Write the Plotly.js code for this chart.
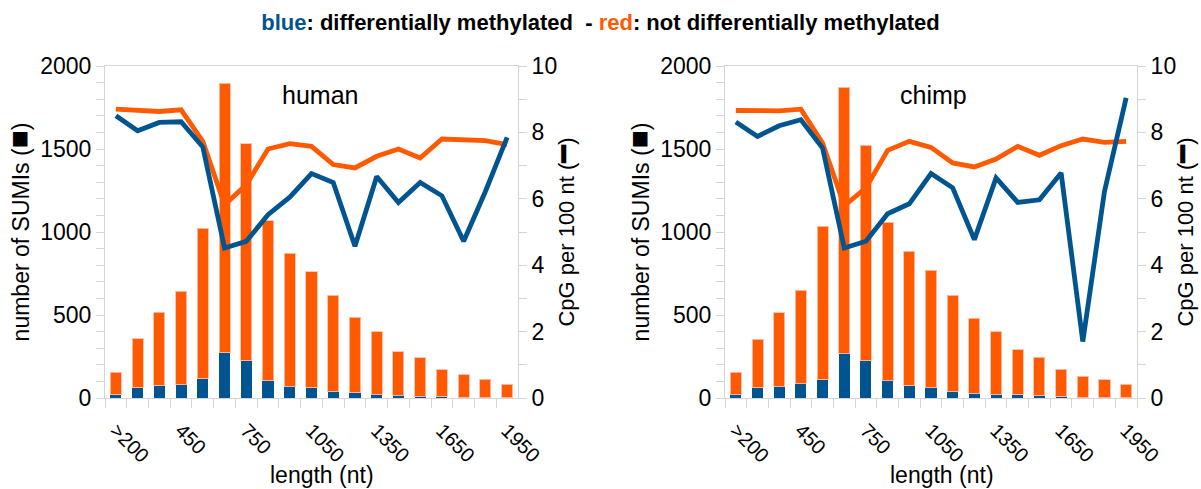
<!DOCTYPE html>
<html>
<head>
<meta charset="utf-8">
<script src="https://cdn.plot.ly/plotly-3.0.1.min.js"></script>
<style>html,body{margin:0;padding:0;background:#fff}#chart{width:1201px;height:489px}</style>
</head>
<body>
<div id="chart"></div>
<script>
// ---- data ----
const categories = ['>200','250','350','450','550','650','750','850','950','1050','1150','1250','1350','1450','1550','1650','1750','1850','1950'];
const shownTicks = ['>200','450','750','1050','1350','1650','1950'];

const humanDiffCount    = [20,62,74,84,116,274,224,104,70,62,40,32,24,16,10,8,2,4,1];
const humanNotDiffCount = [134,296,442,560,908,1623,1308,964,803,699,580,454,376,264,232,162,138,110,83];
const chimpDiffCount    = [24,62,72,90,110,270,224,108,74,62,42,30,24,20,14,8,1,4,1];
const chimpNotDiffCount = [130,292,442,558,924,1603,1300,952,809,709,578,450,374,272,232,164,131,106,83];

const humanDiffCpG    = [8.50,8.05,8.30,8.32,7.56,4.52,4.72,5.52,6.05,6.76,6.49,4.57,6.67,5.89,6.49,6.09,4.72,6.22,7.85];
const humanNotDiffCpG = [8.70,8.68,8.63,8.68,7.73,5.82,6.42,7.50,7.66,7.58,7.03,6.93,7.28,7.50,7.23,7.80,7.76,7.75,7.63];
const chimpDiffCpG    = [8.31,7.88,8.20,8.38,7.53,4.52,4.72,5.55,5.85,6.76,6.33,4.77,6.63,5.89,5.97,6.78,1.70,6.22,9.04];
const chimpNotDiffCpG = [8.66,8.66,8.65,8.70,7.68,5.79,6.33,7.46,7.73,7.55,7.08,6.96,7.20,7.58,7.31,7.60,7.80,7.70,7.73];

const xTitle = 'length (nt)';

// ---- style ----
const BLUE = '#005590';
const ORANGE = '#ff5a00';
const FONT = 'Liberation Sans, Arial, sans-serif';
const AXC = '#d4d4d4';
const W = 1201, H = 489;

function barTrace(y, color, xa, ya, name, outline) {
  return {type:'bar', x:categories, y:y, xaxis:xa, yaxis:ya, name:name,
    marker:{color:color, line:{color:outline, width:outline ? 1 : 0}}, hoverinfo:'skip', showlegend:false};
}
function lineTrace(y, color, xa, ya, name) {
  return {type:'scatter', mode:'lines', x:categories, y:y, xaxis:xa, yaxis:ya, name:name,
    line:{color:color, width:4.8}, hoverinfo:'skip', showlegend:false};
}

const data = [
  barTrace(humanDiffCount, BLUE, 'x', 'y', 'human diff', null),
  barTrace(humanNotDiffCount, ORANGE, 'x', 'y', 'human not diff', 'rgba(255,190,170,0.9)'),
  lineTrace(humanNotDiffCpG, ORANGE, 'x', 'y2', 'human CpG not diff'),
  lineTrace(humanDiffCpG, BLUE, 'x', 'y2', 'human CpG diff'),
  barTrace(chimpDiffCount, BLUE, 'x2', 'y3', 'chimp diff', null),
  barTrace(chimpNotDiffCount, ORANGE, 'x2', 'y3', 'chimp not diff', 'rgba(255,190,170,0.9)'),
  lineTrace(chimpNotDiffCpG, ORANGE, 'x2', 'y4', 'chimp CpG not diff'),
  lineTrace(chimpDiffCpG, BLUE, 'x2', 'y4', 'chimp CpG diff')
];

const tickFont = {family:FONT, size:23, color:'#000'};
const titleFont = {family:FONT, size:23, color:'#000'};
const yDom = [(H-398)/H, (H-66)/H];

function xAxis(dom, anchor) {
  return {domain:dom, anchor:anchor, type:'category', range:[-0.5, categories.length-0.5],
    tickmode:'array', tickvals:categories,
    ticktext:categories.map(c => shownTicks.includes(c) ? c : ''),
    tickson:'boundaries', ticks:'outside', ticklen:9, tickcolor:AXC, tickwidth:1,
    tickangle:45, tickfont:{family:FONT, size:20, color:'#000'}, ticklabelstandoff:12,
    showline:true, linecolor:AXC, linewidth:1, mirror:true, showgrid:false, zeroline:false,
    fixedrange:true};
}
function yLeft(anchor) {
  return {domain:yDom, anchor:anchor, range:[0,2000], dtick:500, tick0:0,
    ticks:'outside', ticklen:8, tickcolor:AXC, tickfont:tickFont,
    minor:{dtick:100, ticks:'outside', ticklen:8, tickcolor:AXC, showgrid:false},
    showline:true, linecolor:AXC, showgrid:false, zeroline:false,
    title:{text:'number of SUMIs (<span style="font-size:30px">■</span>)', font:titleFont, standoff:4}, fixedrange:true};
}
function yRight(anchor, over) {
  return {domain:yDom, anchor:anchor, overlaying:over, side:'right', range:[0,10], dtick:2, tick0:0,
    ticks:'outside', ticklen:8, tickcolor:AXC, tickfont:tickFont,
    minor:{dtick:1, ticks:'outside', ticklen:8, tickcolor:AXC, showgrid:false},
    showline:true, linecolor:AXC, showgrid:false, zeroline:false,
    title:{text:'CpG per 100 nt (<span style="font-size:30px">━</span>)', font:{family:FONT, size:22, color:'#000'}, standoff:2}, fixedrange:true};
}

function ann(text, xpx, ypx, size) {
  return {text:text, xref:'paper', yref:'paper', x:xpx/W, y:1-ypx/H, xanchor:'center', yanchor:'middle',
    showarrow:false, font:{family:FONT, size:size, color:'#000'}};
}

const layout = {
  width:W, height:H, margin:{l:0, r:0, t:0, b:0},
  paper_bgcolor:'#fff', plot_bgcolor:'#fff',
  barmode:'stack', bargap:0.49,
  font:{family:FONT, color:'#000'},
  title:{text:'<b><span style="color:'+BLUE+'">blue</span>: differentially methylated  - <span style="color:'+ORANGE+'">red</span>: not differentially methylated</b>',
    font:{family:FONT, size:22, color:'#000'}, x:0.5, xanchor:'center', y:1-22/H, yanchor:'middle', yref:'container', xref:'paper'},
  xaxis: xAxis([105/W, 518/W], 'y'),
  yaxis: yLeft('x'),
  yaxis2: yRight('x', 'y'),
  xaxis2: xAxis([725/W, 1137/W], 'y3'),
  yaxis3: yLeft('x2'),
  yaxis4: yRight('x2', 'y3'),
  annotations:[
    ann('human', 320, 95, 25),
    ann('chimp', 934, 95, 25),
    ann(xTitle, 322, 475, 23),
    ann(xTitle, 942, 475, 23)
  ]
};

Plotly.newPlot('chart', data, layout, {staticPlot:true, displayModeBar:false});
</script>
</body>
</html>
